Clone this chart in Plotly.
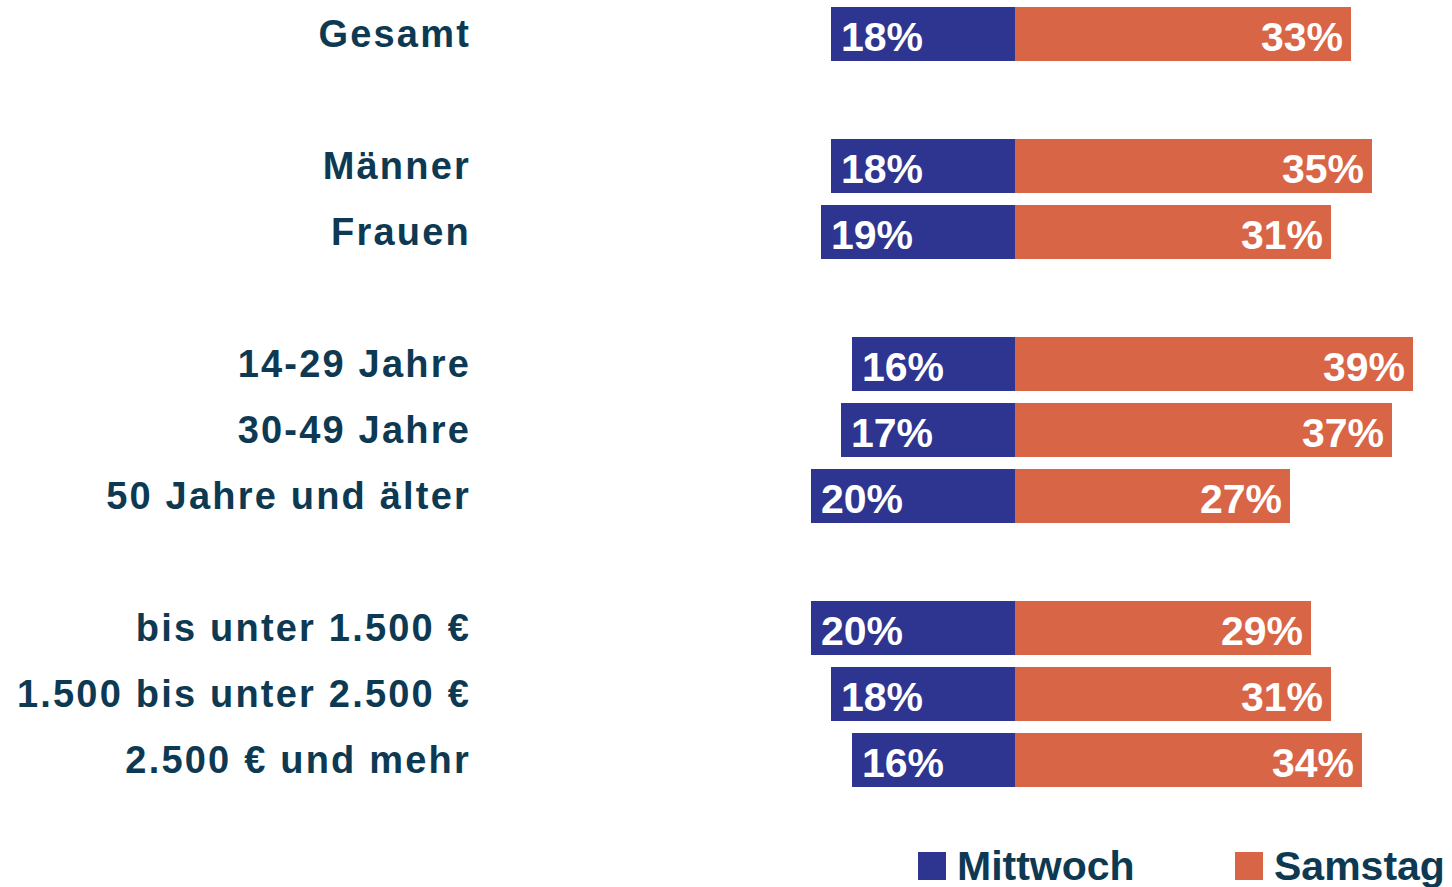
import plotly.graph_objects as go

# Data
groups = [
    ["Gesamt"],
    ["Männer", "Frauen"],
    ["14-29 Jahre", "30-49 Jahre", "50 Jahre und älter"],
    ["bis unter 1.500 €", "1.500 bis unter 2.500 €", "2.500 € und mehr"],
]
mittwoch = [18, 18, 19, 16, 17, 20, 20, 18, 16]
samstag = [33, 35, 31, 39, 37, 27, 29, 31, 34]
series_names = ["Mittwoch", "Samstag"]

BLUE = "#2E3590"
ORANGE = "#D96547"
TEXT = "#0D3A52"
FONT = "Liberation Sans"

# positions: categories with a blank slot between groups
categories, ypos = [], []
slot = 0
for gi, g in enumerate(groups):
    for c in g:
        categories.append(c)
        ypos.append(slot)
        slot += 1
    slot += 1  # gap row

fig = go.Figure()
fig.add_trace(go.Bar(
    y=ypos, x=[-v for v in mittwoch], orientation="h", base=0,
    marker=dict(color=BLUE, line=dict(width=0)), width=0.82,
    name=series_names[0], showlegend=False, hoverinfo="skip",
))
fig.add_trace(go.Bar(
    y=ypos, x=samstag, orientation="h", base=0,
    marker=dict(color=ORANGE, line=dict(width=0)), width=0.82,
    name=series_names[1], showlegend=False, hoverinfo="skip",
))

annotations = []
for y, m, s in zip(ypos, mittwoch, samstag):
    annotations.append(dict(x=-m, y=y, xref="x", yref="y", text=f"{m}%",
                            showarrow=False, xanchor="left", yanchor="middle",
                            xshift=8, yshift=-3,
                            font=dict(family=FONT, size=41, color="white", weight="bold")))
    annotations.append(dict(x=s, y=y, xref="x", yref="y", text=f"{s}%",
                            showarrow=False, xanchor="right", yanchor="middle",
                            xshift=-6, yshift=-3,
                            font=dict(family=FONT, size=41, color="white", weight="bold")))

# manual legend
L, W = 500, 952
T, H = 1, 792
def px(xp):
    return (xp - L) / W
def py(yp):
    return (T + H - yp) / H

shapes = []
for name, col, sx in [(series_names[0], BLUE, 918), (series_names[1], ORANGE, 1235)]:
    shapes.append(dict(type="rect", xref="paper", yref="paper",
                       x0=px(sx), x1=px(sx + 28), y0=py(880), y1=py(852),
                       fillcolor=col, line=dict(width=0)))
    annotations.append(dict(x=px(sx + 37), y=py(866), xref="paper", yref="paper",
                            text=name, showarrow=False, xanchor="left", yanchor="middle",
                            font=dict(family=FONT, size=41, color=TEXT, weight="bold")))

fig.update_layout(
    width=1452, height=887,
    margin=dict(l=L, r=1452 - L - W, t=T, b=887 - T - H),
    paper_bgcolor="white", plot_bgcolor="white",
    barmode="overlay", bargap=0,
    showlegend=False,
    xaxis=dict(range=[-50.45, 42.85], visible=False, fixedrange=True),
    yaxis=dict(range=[11.5, -0.5], tickmode="array", tickvals=ypos, ticktext=categories,
               showgrid=False, zeroline=False, showline=False, ticks="",
               ticklabelstandoff=28, fixedrange=True,
               tickfont=dict(family=FONT, size=38, color=TEXT, weight="bold")),
    shapes=shapes, annotations=annotations,
)

post = """
document.body.style.margin='0';
document.querySelectorAll('.ytick text').forEach(function(t){t.style.letterSpacing='2.2px';});
"""
fig.write_html("out.html", post_script=post, config={"displayModeBar": False})
